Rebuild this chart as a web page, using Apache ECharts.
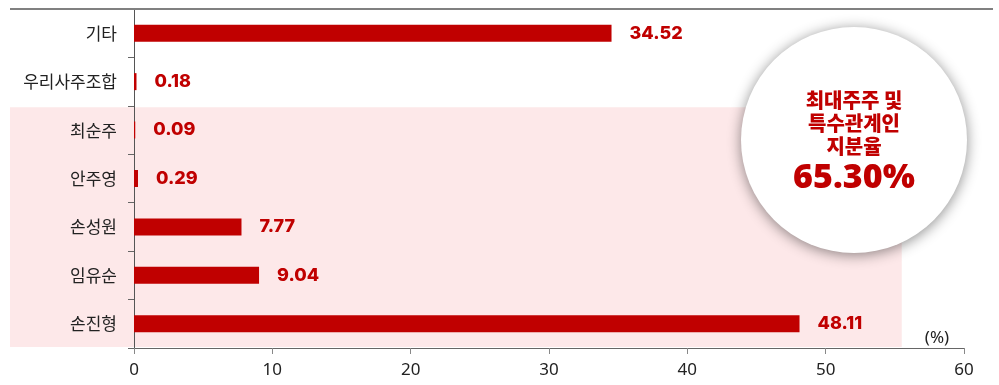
<!DOCTYPE html>
<html><head><meta charset="utf-8">
<script src="https://cdn.jsdelivr.net/npm/echarts@6/dist/echarts.min.js"></script>
<style>html,body{margin:0;padding:0;background:#fff}#c{width:999px;height:385px}</style>
</head><body><div id="c"></div>
<script>
const categories = ['기타', '우리사주조합', '최순주', '안주영', '손성원', '임유순', '손진형'];
const values = [34.52, 0.18, 0.09, 0.29, 7.77, 9.04, 48.11];
const xTicks = [0, 10, 20, 30, 40, 50, 60];
const circleLines = ['최대주주 및', '특수관계인', '지분율'];
const circleValue = '65.30%';
const highlightFrom = '최순주';

const RED = '#c00000';
const chart = echarts.init(document.getElementById('c'), null, {renderer: 'canvas'});
chart.setOption({
  animation: false,
  grid: {left: 134, right: 35, top: 9, bottom: 37},
  xAxis: {
    type: 'value', min: xTicks[0], max: xTicks[xTicks.length - 1], interval: 10,
    splitLine: {show: false},
    axisLine: {show: true, lineStyle: {color: '#666', width: 1}},
    axisTick: {show: true, length: 6, lineStyle: {color: '#888'}},
    axisLabel: {color: '#222', fontSize: 17, fontFamily: 'Noto Sans', margin: 14}
  },
  yAxis: {
    type: 'category', data: categories, inverse: true,
    axisLine: {show: true, lineStyle: {color: '#555', width: 1}},
    axisTick: {show: true, length: 6, lineStyle: {color: '#666'}},
    axisLabel: {color: '#222', fontSize: 17, fontFamily: 'Noto Sans CJK KR', margin: 17}
  },
  series: [{
    type: 'bar', data: values, barWidth: 17, z: 5,
    itemStyle: {color: RED},
    label: {
      show: true, position: 'right', distance: 18,
      color: RED, fontSize: 18, fontWeight: 800, fontFamily: 'Inter',
      formatter: p => p.value.toFixed(2)
    }
  }]
});

function addGraphics() {
  const idx = categories.indexOf(highlightFrom);
  const band = chart.convertToPixel({yAxisIndex: 0}, categories[1]) - chart.convertToPixel({yAxisIndex: 0}, categories[0]);
  const yTop = chart.convertToPixel({yAxisIndex: 0}, categories[idx]) - band / 2 + 1.5;
  const yBot = chart.convertToPixel({yAxisIndex: 0}, categories[categories.length - 1]) + band / 2 - 1;
  const xRight = chart.convertToPixel({xAxisIndex: 0}, 55.5);
  const cx = 854, cy = 140, r = 113;
  const g = [
    {type: 'rect', shape: {x: 10, y: yTop, width: xRight - 10, height: yBot - yTop}, style: {fill: '#fde8e9'}, z: -10, silent: true},
    {type: 'line', shape: {x1: 10, y1: 9, x2: 993, y2: 9}, style: {stroke: '#808080', lineWidth: 2}, z: 10},
    {type: 'circle', shape: {cx: cx, cy: cy, r: r}, style: {fill: '#fff', shadowBlur: 14, shadowColor: 'rgba(0,0,0,0.45)', shadowOffsetX: 0, shadowOffsetY: 2}, z: 20},
    {type: 'text', x: 937, y: 338, style: {text: '(%)', fill: '#222', font: '17px "Noto Sans"', textAlign: 'center', textVerticalAlign: 'middle'}, z: 20}
  ];
  const ys = [100, 123, 146];
  circleLines.forEach((t, i) => g.push({type: 'text', x: cx, y: ys[i], z: 21,
    style: {text: t, fill: RED, font: '900 20px "Noto Sans CJK KR"', textAlign: 'center', textVerticalAlign: 'middle'}}));
  g.push({type: 'text', x: cx, y: 178, z: 21,
    style: {text: circleValue, fill: RED, font: '900 34px "Noto Sans"', textAlign: 'center', textVerticalAlign: 'middle'}});
  chart.setOption({graphic: g});
}
addGraphics();
</script></body></html>
